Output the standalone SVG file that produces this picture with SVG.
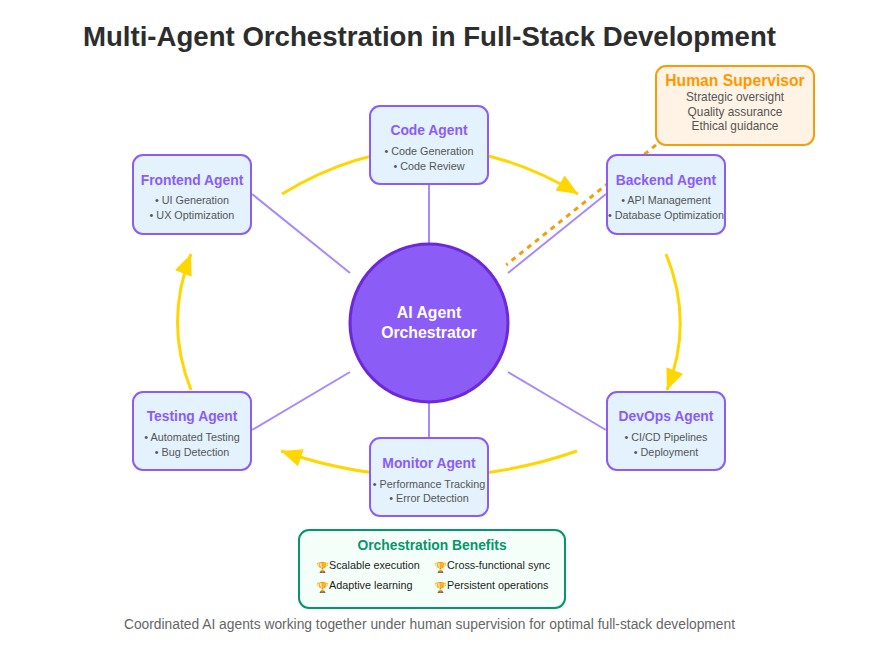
<svg xmlns="http://www.w3.org/2000/svg" width="884" height="660" viewBox="0 0 884 660">
<style>
text{font-family:"Liberation Sans",Arial,sans-serif;text-anchor:middle}
.agent{fill:#e3f2fd;stroke:#8b5cf6;stroke-width:2}
.at{font-size:13.85px;font-weight:bold;fill:#8b5cf6}
.ai{font-size:10.8px;fill:#555}
.link{stroke:#a78bfa;stroke-width:2;fill:none}
.flow{stroke:#ffd700;stroke-width:3;fill:none;marker-end:url(#arrow)}
.bi{font-size:10.8px;fill:#222;text-anchor:start}
.em{font-size:10.5px;text-anchor:start}
.hs{font-size:11.85px;fill:#555}
</style>
<defs>
<marker id="arrow" markerUnits="strokeWidth" markerWidth="7" markerHeight="6" refX="7" refY="3" orient="auto">
<path d="M0 0L7 3L0 6Z" fill="#ffd700"/>
</marker>
</defs>
<rect width="884" height="660" fill="#fff"/>
<text id="title" x="429.5" y="46" font-size="27.6" font-weight="bold" fill="#2d2d2d">Multi-Agent Orchestration in Full-Stack Development</text>
<g id="connectors">
<path class="link" d="M429 184V244"/>
<path class="link" d="M252 194L350 273"/>
<path class="link" d="M606 194L508 273"/>
<path class="link" d="M252 430L350 372"/>
<path class="link" d="M606 430L508 372"/>
<path class="link" d="M429 402V438"/>
<path class="flow" d="M282 194Q430 104 578 194"/>
<path class="flow" d="M666 254Q694 322 667 390"/>
<path class="flow" d="M577 451Q430 502 281 451"/>
<path class="flow" d="M191 390Q164 322 191 254"/>
<path d="M656 145L506.2 265" fill="none" stroke="#f59e0b" stroke-width="3" stroke-dasharray="5 5"/>
</g>
<g id="orchestrator">
<circle cx="429" cy="323" r="79" fill="#8b5cf6" stroke="#6d28d9" stroke-width="3"/>
<text x="429" y="318" font-size="15.8" font-weight="bold" fill="#fff">AI Agent</text>
<text x="429" y="338" font-size="15.8" font-weight="bold" fill="#fff">Orchestrator</text>
</g>
<g id="code-agent">
<rect class="agent" x="370" y="106" width="118" height="78" rx="10"/>
<text class="at" x="429" y="135">Code Agent</text>
<text class="ai" x="429" y="155">• Code Generation</text>
<text class="ai" x="429" y="170">• Code Review</text>
</g>
<g id="frontend-agent">
<rect class="agent" x="133" y="155" width="118" height="79" rx="10"/>
<text class="at" x="192" y="185">Frontend Agent</text>
<text class="ai" x="192" y="204">• UI Generation</text>
<text class="ai" x="192" y="219">• UX Optimization</text>
</g>
<g id="backend-agent">
<rect class="agent" x="607" y="155" width="118" height="79" rx="10"/>
<text class="at" x="666" y="185">Backend Agent</text>
<text class="ai" x="666" y="204">• API Management</text>
<text class="ai" x="666" y="219">• Database Optimization</text>
</g>
<g id="testing-agent">
<rect class="agent" x="133" y="392" width="118" height="78" rx="10"/>
<text class="at" x="192" y="421">Testing Agent</text>
<text class="ai" x="192" y="441">• Automated Testing</text>
<text class="ai" x="192" y="456">• Bug Detection</text>
</g>
<g id="devops-agent">
<rect class="agent" x="607" y="392" width="118" height="78" rx="10"/>
<text class="at" x="666" y="421">DevOps Agent</text>
<text class="ai" x="666" y="441">• CI/CD Pipelines</text>
<text class="ai" x="666" y="456">• Deployment</text>
</g>
<g id="monitor-agent">
<rect class="agent" x="370" y="438" width="118" height="78" rx="10"/>
<text class="at" x="429" y="468">Monitor Agent</text>
<text class="ai" x="429" y="488">• Performance Tracking</text>
<text class="ai" x="429" y="502">• Error Detection</text>
</g>
<g id="human-supervisor">
<rect x="656" y="66" width="158" height="79" rx="10" fill="#fff3e6" stroke="#f59e0b" stroke-width="2"/>
<text x="735" y="86" font-size="15.7" font-weight="bold" fill="#ff9800">Human Supervisor</text>
<text class="hs" x="735" y="101">Strategic oversight</text>
<text class="hs" x="735" y="116">Quality assurance</text>
<text class="hs" x="735" y="130">Ethical guidance</text>
</g>
<g id="benefits">
<rect x="299" y="530" width="266" height="78" rx="10" fill="#f5fff9" stroke="#059669" stroke-width="2"/>
<text x="432" y="550" font-size="13.85" font-weight="bold" fill="#059669">Orchestration Benefits</text>
<text class="em" x="316" y="571">🏆</text><text class="bi" x="329" y="569">Scalable execution</text>
<text class="em" x="434" y="571">🏆</text><text class="bi" x="447" y="569">Cross-functional sync</text>
<text class="em" x="316" y="591">🏆</text><text class="bi" x="329" y="589">Adaptive learning</text>
<text class="em" x="434" y="591">🏆</text><text class="bi" x="447" y="589">Persistent operations</text>
</g>
<text id="caption" x="429.5" y="629" font-size="13.82" fill="#666">Coordinated AI agents working together under human supervision for optimal full-stack development</text>
</svg>
